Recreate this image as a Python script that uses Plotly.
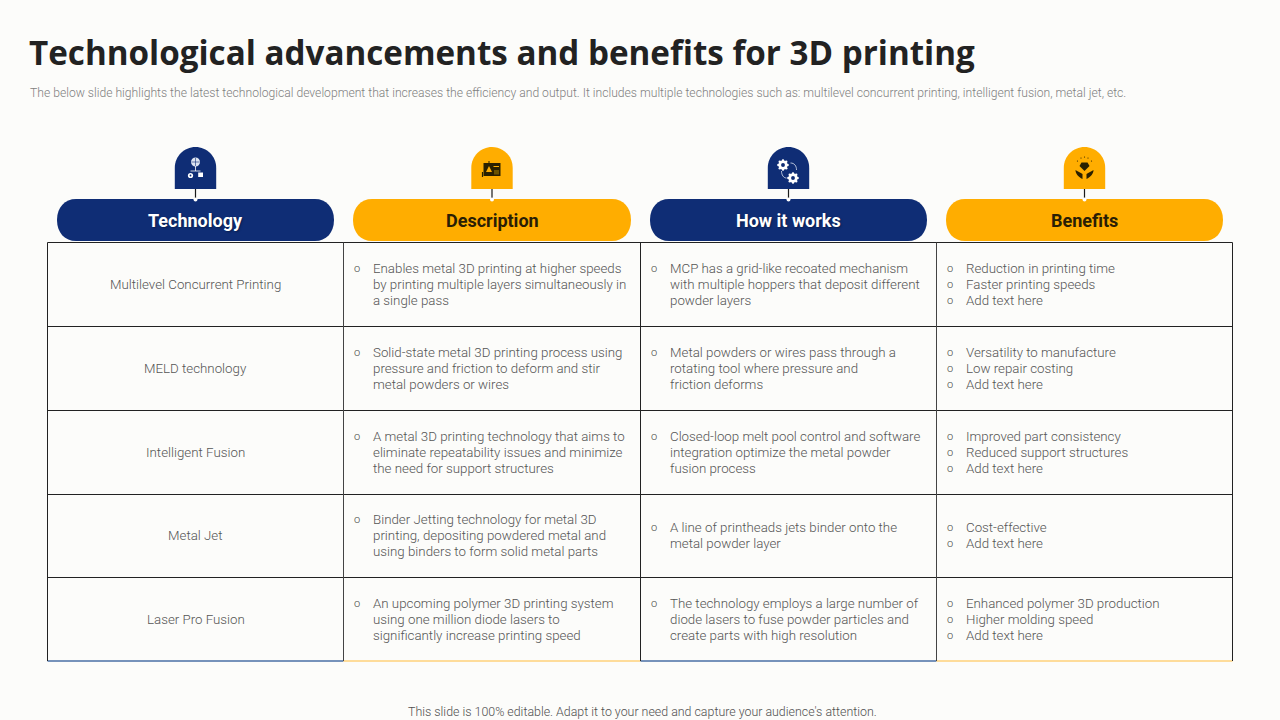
import plotly.graph_objects as go

title = "Technological advancements and benefits for 3D printing"
subtitle = ("The below slide highlights the latest technological development that increases the efficiency "
            "and output. It includes multiple technologies such as: multilevel concurrent printing, "
            "intelligent fusion, metal jet, etc.")
footer = "This slide is 100% editable. Adapt it to your need and capture your audience's attention."

headers = ["Technology", "Description", "How it works", "Benefits"]

technologies = ["Multilevel Concurrent Printing", "MELD technology", "Intelligent Fusion",
                "Metal Jet", "Laser Pro Fusion"]

descriptions = [
    ["Enables metal 3D printing at higher speeds", "by printing multiple layers simultaneously in", "a single pass"],
    ["Solid-state metal 3D printing process using", "pressure and friction to deform and stir", "metal powders or wires"],
    ["A metal 3D printing technology that aims to", "eliminate repeatability issues and minimize", "the need for support structures"],
    ["Binder Jetting technology for metal 3D", "printing, depositing powdered metal and", "using binders to form solid metal parts"],
    ["An upcoming polymer 3D printing system", "using one million diode lasers to", "significantly increase printing speed"],
]

how_it_works = [
    ["MCP has a grid-like recoated mechanism", "with multiple hoppers that deposit different", "powder layers"],
    ["Metal powders or wires pass through a", "rotating tool where pressure and", "friction deforms"],
    ["Closed-loop melt pool control and software", "integration optimize the metal powder", "fusion process"],
    ["A line of printheads jets binder onto the", "metal powder layer"],
    ["The technology employs a large number of", "diode lasers to fuse powder particles and", "create parts with high resolution"],
]

benefits = [
    ["Reduction in printing time", "Faster printing speeds", "Add text here"],
    ["Versatility to manufacture", "Low repair costing", "Add text here"],
    ["Improved part consistency", "Reduced support structures", "Add text here"],
    ["Cost-effective", "Add text here"],
    ["Enhanced polymer 3D production", "Higher molding speed", "Add text here"],
]

BG = "#FCFCFA"
BLUE = "#0F2D75"
ORANGE = "#FFAD00"
GREY = "#555555"
DARK = "#222222"
BODY_FONT = "Roboto"

col_edges = [47.5, 343.5, 640.5, 936.5, 1232.5]
row_edges = [242.5, 326.5, 410.5, 494.5, 577.5, 661]
header_accent = [BLUE, ORANGE, BLUE, ORANGE]
bottom_accent = ["#4A6FA5", "#FFD27A", "#4A6FA5", "#FFD27A"]
line_gap = 16

fig = go.Figure()
shapes = []
annotations = []


def add_text(x, y, text, size=13.3, color=GREY, anchor="left", family=BODY_FONT, weight=300, shadow=None):
    font = dict(family=family, size=size, color=color, weight=weight)
    if shadow:
        font["shadow"] = shadow
    annotations.append(dict(x=x, y=y, text=text, xref="x", yref="y", xanchor=anchor, yanchor="middle",
                            showarrow=False, font=font, borderpad=0))


def add_line(x0, y0, x1, y1, color, width=1.0):
    shapes.append(dict(type="line", x0=x0, y0=y0, x1=x1, y1=y1, xref="x", yref="y",
                       line=dict(color=color, width=width)))


def add_circle(cx, cy, r, fill, line_color=None, width=0):
    shapes.append(dict(type="circle", x0=cx - r, x1=cx + r, y0=cy - r, y1=cy + r, xref="x", yref="y",
                       fillcolor=fill, line=dict(color=line_color or fill, width=width)))


def add_rect(x0, y0, x1, y1, fill, width=0, line_color=None):
    shapes.append(dict(type="rect", x0=x0, x1=x1, y0=y0, y1=y1, xref="x", yref="y",
                       fillcolor=fill, line=dict(color=line_color or fill, width=width)))


def add_path(path, fill, line_color=None, width=0):
    shapes.append(dict(type="path", path=path, xref="x", yref="y", fillcolor=fill,
                       line=dict(color=line_color or fill, width=width)))


def pill(x0, x1, y0, y1, color):
    r = 19
    k = 8
    add_path(f"M {x0+r} {y0} L {x1-r} {y0} C {x1-k} {y0} {x1} {y0+k} {x1} {y0+r+2} "
             f"C {x1} {y1-k} {x1-k} {y1} {x1-r} {y1} L {x0+r} {y1} "
             f"C {x0+k} {y1} {x0} {y1-k} {x0} {y0+r+2} C {x0} {y0+k} {x0+k} {y0} {x0+r} {y0} Z", color)


def dome(cx, color):
    x0, x1, top, bottom, r = cx - 20.7, cx + 20.7, 147, 189, 20.7
    k = r * 0.55
    add_path(f"M {x0} {bottom} L {x0} {top+r} C {x0} {top+r-k} {cx-k} {top} {cx} {top} "
             f"C {cx+k} {top} {x1} {top+r-k} {x1} {top+r} L {x1} {bottom} Z", color)


def gear(cx, cy, r, color, hole):
    add_circle(cx, cy, r, color)
    for dx, dy in [(1, 0), (-1, 0), (0, 1), (0, -1), (.7, .7), (-.7, .7), (.7, -.7), (-.7, -.7)]:
        add_circle(cx + dx * r, cy + dy * r, r * 0.27, color)
    add_circle(cx, cy, r * 0.42, hole)


def icon_network(cx, color):
    add_circle(cx, 162, 4.5, "#DCE3F0")
    add_line(cx - 4, 162, cx + 4, 162, color, 0.6)
    add_line(cx, 158, cx, 166, color, 0.6)
    add_line(cx, 166, cx, 171, "white", 0.8)
    add_line(cx - 5, 171, cx + 5, 171, "white", 0.8)
    add_circle(cx - 5, 175.5, 2.6, "white")
    add_circle(cx - 5, 175.5, 0.9, color)
    add_rect(cx + 2.7, 172.5, cx + 7.5, 177, "white")


def icon_card(cx, color):
    ink = "#2A2000"
    add_rect(cx - 8.5, 163, cx + 8.5, 176, ink)
    add_line(cx - 3, 161, cx - 3, 163, ink, 1)
    add_path(f"M {cx-6} 172 L {cx-3} 166 L {cx} 172 Z", color)
    add_line(cx + 1.5, 166.5, cx + 7, 166.5, color, 1)
    add_rect(cx + 2, 170, cx + 7, 174.5, "#6B5200")
    add_line(cx - 9.5, 172, cx - 9.5, 177, ink, 1.2)


def icon_gears(cx, color):
    gear(cx - 5.5, 165, 4.6, "white", color)
    gear(cx + 4.5, 178, 4.6, "white", color)
    add_path(f"M {cx+2} 163 C {cx+6} 163 {cx+8} 166 {cx+8} 170", "rgba(0,0,0,0)", "#DDE3F0", 0.8)
    add_path(f"M {cx-7} 171 C {cx-7} 175 {cx-5} 178 {cx-2} 178", "rgba(0,0,0,0)", "#DDE3F0", 0.8)


def icon_hands(cx, color):
    ink = "#2A2000"
    add_path(f"M {cx-5} 166 L {cx-3} 162.5 L {cx+3} 162.5 L {cx+5} 166 L {cx} 171 Z", ink)
    add_path(f"M {cx-9} 170 C {cx-9} 174 {cx-6} 177 {cx-2} 179 L {cx-2} 174 C {cx-4} 173 {cx-7} 171 {cx-9} 170 Z", ink)
    add_path(f"M {cx+9} 170 C {cx+9} 174 {cx+6} 177 {cx+2} 179 L {cx+2} 174 C {cx+4} 173 {cx+7} 171 {cx+9} 170 Z", ink)
    for dx, dy in [(-7, -6), (-3.5, -9), (0, -10), (3.5, -9), (7, -6)]:
        add_circle(cx + dx, 167 + dy, 0.6, ink)


# title block
add_text(28, 52, title, size=33.2, color=DARK, family="Open Sans", weight=700)
add_text(29, 92.5, subtitle, size=12.15, color="#7F7F7F")
add_text(642, 711, footer, size=12.4, color="#505050", anchor="center")

# header pills and icons
pill_x = [(57, 334), (353, 631), (650, 927), (946, 1223)]
icons = [icon_network, icon_card, icon_gears, icon_hands]
for i, name in enumerate(headers):
    x0, x1 = pill_x[i]
    cx = (x0 + x1) / 2
    color = header_accent[i]
    dome(cx, color)
    add_line(cx, 189, cx, 199, "#1A1A1A", 1.2)
    pill(x0, x1, 199, 241, color)
    add_circle(cx, 199.5, 2, "white")
    icons[i](cx, color)
    text_color = "white" if color == BLUE else "#2A1E05"
    add_text(cx, 220.5, name, size=18, color=text_color, anchor="center", weight=700,
             shadow="1px 1px 2px rgba(0,0,0,0.35)" if color == BLUE else None)

# table grid
for y in row_edges[:-1]:
    add_line(col_edges[0], y, col_edges[-1], y, DARK)
for j in range(4):
    add_line(col_edges[j], row_edges[-1], col_edges[j + 1], row_edges[-1], bottom_accent[j], 1.6)
for j, x in enumerate(col_edges):
    add_line(x, row_edges[0], x, row_edges[-1], DARK if j in (0, 2, 4) else "#444444")

# table body
row_mid = [284.5, 368.5, 452.5, 535.5, 619.5]
for r, mid in enumerate(row_mid):
    add_text((col_edges[0] + col_edges[1]) / 2, mid, technologies[r], anchor="center")

    for col, cell, bullet_each in [(1, descriptions[r], False), (2, how_it_works[r], False), (3, benefits[r], True)]:
        n = len(cell)
        start = mid - (n - 1) * line_gap / 2
        for k, line in enumerate(cell):
            y = start + k * line_gap
            add_text(col_edges[col] + 28, y, line)
            if bullet_each or k == 0:
                add_text(col_edges[col] + 13.5, y, "o", size=11, color="#444444", anchor="center")

fig.update_layout(
    width=1280, height=720,
    margin=dict(l=0, r=0, t=0, b=0),
    paper_bgcolor=BG, plot_bgcolor=BG,
    showlegend=False,
    xaxis=dict(range=[0, 1280], visible=False, fixedrange=True),
    yaxis=dict(range=[720, 0], visible=False, fixedrange=True),
    shapes=shapes,
    annotations=annotations,
)
# the page has a default 8px body margin, drop it so the figure fills the window
fig.write_html("out.html", config={"displayModeBar": False},
               post_script="document.body.style.margin='0';document.body.style.background='%s';" % BG)
